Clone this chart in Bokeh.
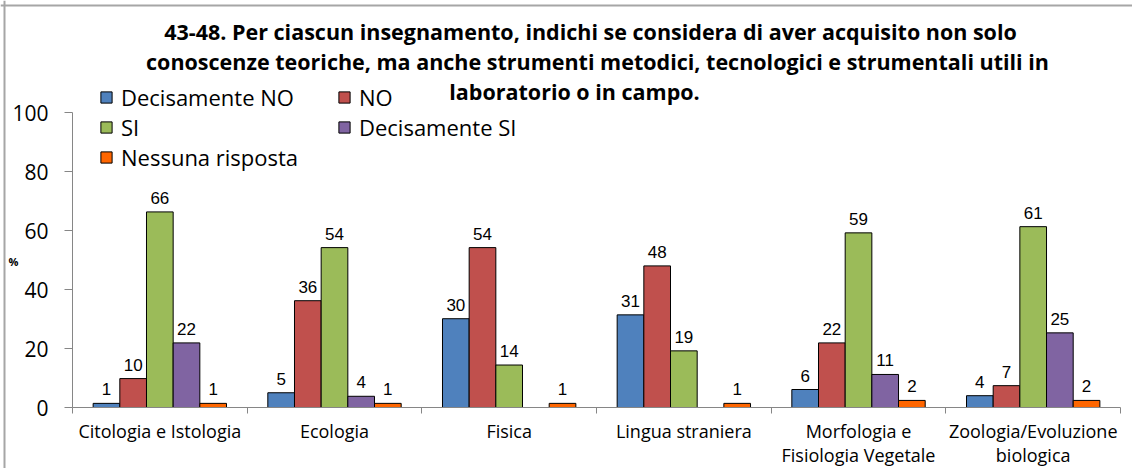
import numpy as np
from bokeh.plotting import figure
from bokeh.models import ColumnDataSource, FixedTicker, Label, Legend, LegendItem, Range1d, Span
from bokeh.embed import file_html
from bokeh.resources import INLINE
from bokeh.core.properties import value

# ---------------- data ----------------
categories = [
    "Citologia e Istologia",
    "Ecologia",
    "Fisica",
    "Lingua straniera",
    "Morfologia e\nFisiologia Vegetale",
    "Zoologia/Evoluzione\nbiologica",
]
series_names = ["Decisamente NO", "NO", "SI", "Decisamente SI", "Nessuna risposta"]
decisamente_no = [1.4, 5.0, 30.1, 31.4, 6.1, 4.0]
no = [9.8, 36.2, 54.2, 48.0, 21.9, 7.4]
si = [66.3, 54.2, 14.4, 19.2, 59.2, 61.3]
decisamente_si = [21.9, 3.8, 0.0, 0.0, 11.2, 25.3]
nessuna_risposta = [1.4, 1.4, 1.4, 1.4, 2.4, 2.4]
y_ticks = [0, 20, 40, 60, 80, 100]
title_lines = [
    "43-48. Per ciascun insegnamento, indichi se considera di aver acquisito non solo",
    "conoscenze teoriche, ma anche strumenti metodici, tecnologici e strumentali utili in",
    "laboratorio o in campo.",
]
y_label = "%"

series_values = [decisamente_no, no, si, decisamente_si, nessuna_risposta]
colors = ["#4F81BD", "#C0504D", "#9BBB59", "#8064A2", "#FF6600"]

# ---------------- layout (pixels) ----------------
W, H = 1132, 468
AX_LEFT = 72            # canvas px of the y axis line
AX_BOTTOM = 407         # canvas px (from top) of the x axis line
CAT_PX = 174.67         # px per category
UNIT_PX = 2.95          # px per percentage point

x_start = -AX_LEFT / CAT_PX
x_end = (W - AX_LEFT) / CAT_PX
y_start = -(H - AX_BOTTOM) / UNIT_PX
y_end = AX_BOTTOM / UNIT_PX

p = figure(
    width=W, height=H,
    x_range=Range1d(x_start, x_end),
    y_range=Range1d(y_start, y_end),
    output_backend="svg", toolbar_location=None,
    min_border=0,
)
p.outline_line_color = None
p.xgrid.visible = False
p.ygrid.visible = False
p.background_fill_color = "white"
p.border_fill_color = "white"

# chart-area border (top and left edges visible in the crop)
p.add_layout(Span(location=x_start + 4 / CAT_PX, dimension="height",
                  line_color="#a6a6a6", line_width=2))
p.add_layout(Span(location=y_end - 5 / UNIT_PX, dimension="width",
                  line_color="#a6a6a6", line_width=2))

bar_w = 0.1527
centers = np.arange(len(categories)) + 0.5
renderers = []
lab_x, lab_y, lab_t = [], [], []
for j, (name, vals, col) in enumerate(zip(series_names, series_values, colors)):
    xs = centers + (j - 2) * bar_w
    src = ColumnDataSource(dict(x=xs, top=vals))
    r = p.vbar(x="x", top="top", bottom=0, width=bar_w, source=src,
               fill_color=col, line_color="black", line_width=1)
    renderers.append(r)
    for xv, v in zip(xs, vals):
        if v > 0:
            lab_x.append(xv)
            lab_y.append(v)
            lab_t.append(f"{v:.0f}")

lab_src = ColumnDataSource(dict(x=lab_x, y=lab_y, t=lab_t))
p.text(x="x", y="y", text="t", source=lab_src, text_align="center",
       text_baseline="alphabetic", y_offset=-14,
       text_font=value("Liberation Sans"), text_font_size="17px", text_color="black")

# ---------------- axes ----------------
ax = p.xaxis[0]
ax.fixed_location = 0
ax.bounds = (0, len(categories))
ax.ticker = FixedTicker(ticks=list(centers), minor_ticks=list(range(len(categories) + 1)))
ax.major_label_overrides = {float(c): lab for c, lab in zip(centers, categories)}
ax.major_tick_out = 0
ax.major_tick_in = 0
ax.minor_tick_out = 6
ax.minor_tick_in = 0
ax.minor_tick_line_color = "#868686"
ax.axis_line_color = "#868686"
ax.major_label_text_font = "Open Sans"
ax.major_label_text_font_size = "18px"
ax.major_label_text_color = "black"
ax.major_label_text_line_height = 1.0
ax.major_label_standoff = 5

ay = p.yaxis[0]
ay.fixed_location = 0
ay.bounds = (0, 100)
ay.ticker = FixedTicker(ticks=y_ticks, minor_ticks=[])
ay.major_tick_out = 8
ay.major_tick_in = 0
ay.major_tick_line_color = "#868686"
ay.axis_line_color = "#868686"
ay.major_label_text_font = "Open Sans"
ay.major_label_text_font_size = "21px"
ay.major_label_text_color = "black"
ay.major_label_standoff = 16

# ---------------- legend ----------------
# column-major filling -> order items so that rows read: DecNO NO / SI DecSI / Nessuna
order = [0, 2, 4, 1, 3]
items = [LegendItem(label=series_names[i], renderers=[renderers[i]]) for i in order]
legend = Legend(items=items, location=(99, 296), ncols=2,
                glyph_width=14, glyph_height=14, label_standoff=8,
                label_text_font="Open Sans", label_text_font_size="22px",
                label_text_color="black", label_width=216, spacing=0,
                padding=0, margin=0, border_line_color=None,
                background_fill_alpha=0)
p.add_layout(legend, "center")

# ---------------- title and % label ----------------
title_x = [590, 597, 574]
title_y = [437, 407, 377]
for t, tx, ty in zip(title_lines, title_x, title_y):
    p.add_layout(Label(x=tx, y=ty, x_units="screen", y_units="screen", text=t,
                       text_align="center", text_baseline="alphabetic",
                       text_font="Open Sans", text_font_style="bold",
                       text_font_size="21.5px", text_color="black"))
p.add_layout(Label(x=13, y=207, x_units="screen", y_units="screen", text=y_label,
                   text_align="center", text_baseline="middle",
                   text_font="Open Sans", text_font_style="bold",
                   text_font_size="11px", text_color="black"))

open("out.html", "w").write(file_html(p, INLINE))
